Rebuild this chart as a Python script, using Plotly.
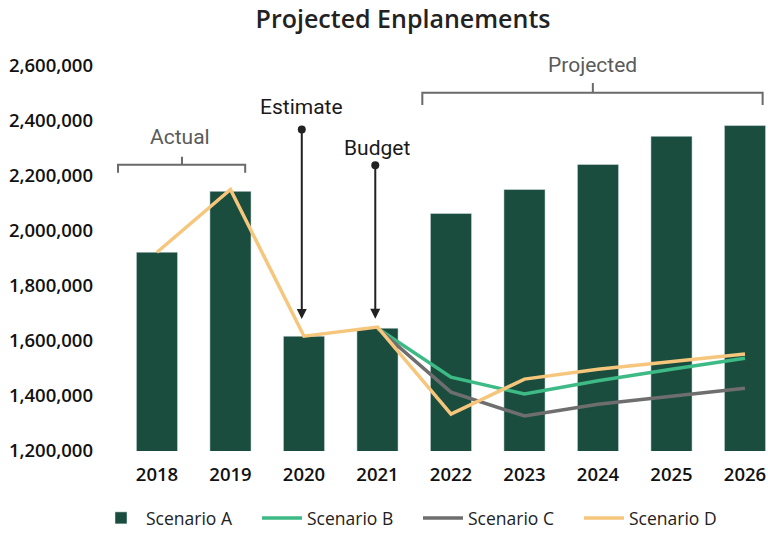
import plotly.graph_objects as go

years = ["2018", "2019", "2020", "2021", "2022", "2023", "2024", "2025", "2026"]
scenario_a = [1922000, 2143000, 1617000, 1646000, 2063000, 2150000, 2241000, 2343000, 2382000]
scenario_b = [None, None, None, 1646000, 1468000, 1407000, 1455000, 1497000, 1537000]
scenario_c = [None, None, None, 1646000, 1414000, 1327000, 1370000, 1399000, 1428000]
scenario_d = [1922000, 2150000, 1617000, 1650000, 1334000, 1461000, 1497000, 1523000, 1552000]
y_ticks = [1200000, 1400000, 1600000, 1800000, 2000000, 2200000, 2400000, 2600000]

BAR = "#1b4d3e"
GREEN = "#3dba85"
GRAY = "#6e6e6e"
YELLOW = "#f6c67c"
TXT = "#1a1a1a"
ANN = "#5a5a5a"

fig = go.Figure()
fig.add_trace(go.Bar(x=years, y=scenario_a, name="Scenario A", marker_color=BAR,
                     width=0.56, base=0))
fig.add_trace(go.Scatter(x=years, y=scenario_b, name="Scenario B", mode="lines",
                         line=dict(color=GREEN, width=3.5)))
fig.add_trace(go.Scatter(x=years, y=scenario_c, name="Scenario C", mode="lines",
                         line=dict(color=GRAY, width=3.5)))
fig.add_trace(go.Scatter(x=years, y=scenario_d, name="Scenario D", mode="lines",
                         line=dict(color=YELLOW, width=3.5)))

# brackets
bracket_col = "#6a6a6a"
fig.add_shape(type="path", xref="x", yref="y",
              path="M -0.53,2211000 L -0.53,2240000 L 0.34,2240000 L 0.34,2269000 "
                   "M 0.34,2240000 L 1.20,2240000 L 1.20,2211000",
              line=dict(color=bracket_col, width=2))
fig.add_shape(type="path", xref="x", yref="y",
              path="M 3.61,2457000 L 3.61,2501000 L 5.93,2501000 L 5.93,2537000 "
                   "M 5.93,2501000 L 8.24,2501000 L 8.24,2457000",
              line=dict(color=bracket_col, width=2))

annfont = dict(family="Roboto", size=21)
fig.add_annotation(x=0.31, y=2341000, xref="x", yref="y", text="Actual", showarrow=False,
                   font=dict(color=ANN, **annfont))
fig.add_annotation(x=5.92, y=2602000, xref="x", yref="y", text="Projected", showarrow=False,
                   font=dict(color=ANN, **annfont))
fig.add_annotation(x=1.97, y=2450000, xref="x", yref="y", text="Estimate", showarrow=False,
                   font=dict(color=TXT, **annfont))
fig.add_annotation(x=3.0, y=2301000, xref="x", yref="y", text="Budget", showarrow=False,
                   font=dict(color=TXT, **annfont))

# arrows
fig.add_annotation(x=1.97, y=1679000, xref="x", yref="y", ax=0, ay=-191, text="",
                   showarrow=True, arrowhead=2, arrowsize=1, arrowwidth=2,
                   arrowside="end+start", startarrowhead=6, startarrowsize=1,
                   arrowcolor="#222222")
fig.add_annotation(x=2.97, y=1680000, xref="x", yref="y", ax=0, ay=-155, text="",
                   showarrow=True, arrowhead=2, arrowsize=1, arrowwidth=2,
                   arrowside="end+start", startarrowhead=6, startarrowsize=1,
                   arrowcolor="#222222")

tickfont = dict(family="Open Sans", size=18.5, color="#111111", weight=600)
fig.update_layout(
    width=768, height=536,
    margin=dict(l=112, r=0, t=38, b=84),
    paper_bgcolor="white", plot_bgcolor="white",
    title=dict(text="Projected Enplanements", x=(403) / 768, xanchor="center",
               y=1 - 19 / 536, yanchor="middle",
               font=dict(family="Open Sans", size=25, color="#222222", weight=600)),
    xaxis=dict(type="category", range=[-0.612, 8.313], showgrid=False, showline=False,
               ticks="", ticklabelstandoff=10, tickfont=tickfont),
    yaxis=dict(range=[1200000, 2700000], tickvals=y_ticks, tickformat=",",
               showgrid=False, zeroline=False, showline=False, ticks="",
               ticklabelstandoff=18, tickfont=tickfont),
    legend=dict(orientation="h", x=(418 - 112) / 656, xanchor="center",
                y=(452 - 519) / 414, yanchor="middle",
                font=dict(family="Open Sans", size=17.5, color="#222222"),
                itemwidth=40, entrywidth=106, entrywidthmode="pixels",
                traceorder="normal"),
    showlegend=True,
)

fig.write_html("out.html")
